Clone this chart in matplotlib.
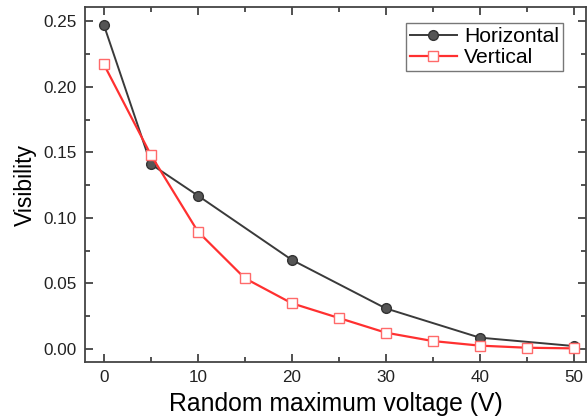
import matplotlib
matplotlib.use("Agg")
import matplotlib.pyplot as plt
from matplotlib.ticker import MultipleLocator

plt.rcParams['font.family'] = ['Liberation Sans', 'DejaVu Sans']

x_h = [0, 5, 10, 20, 30, 40, 50]
vis_h = [0.247, 0.141, 0.117, 0.068, 0.031, 0.0087, 0.0023]
x_v = [0, 5, 10, 15, 20, 25, 30, 35, 40, 45, 50]
vis_v = [0.217, 0.148, 0.0896, 0.054, 0.0349, 0.0237, 0.0125, 0.0061, 0.0026, 0.001, 0.0005]

fig = plt.figure(figsize=(5.87, 4.19), dpi=100)
ax = fig.add_axes([0.145, 0.136, 0.853, 0.847])

ax.plot(x_h, vis_h, color='#3a3a3a', lw=1.4, marker='o', ms=7,
        mfc='#555555', mec='#333333', label='Horizontal', zorder=3)
ax.plot(x_v, vis_v, color='#ff3030', lw=1.6, marker='s', ms=7,
        mfc='white', mec='#ff6a6a', mew=1.0, label='Vertical', zorder=3)

ax.set_xlim(-2.0, 51.3)
ax.set_ylim(-0.0099, 0.2607)
ax.xaxis.set_major_locator(MultipleLocator(10))
ax.xaxis.set_minor_locator(MultipleLocator(5))
ax.yaxis.set_major_locator(MultipleLocator(0.05))
ax.yaxis.set_minor_locator(MultipleLocator(0.025))
ax.yaxis.set_major_formatter(matplotlib.ticker.FormatStrFormatter('%.2f'))

ax.tick_params(which='both', direction='in', top=True, right=True, color='#333333',
               labelsize=12.3, labelcolor='#222222', width=1.2)
ax.tick_params(which='major', length=6)
ax.tick_params(which='minor', length=3.5)
ax.tick_params(axis='x', pad=6)
ax.tick_params(axis='y', pad=6)
for s in ax.spines.values():
    s.set_linewidth(1.3)
    s.set_color('#444444')

ax.set_xlabel('Random maximum voltage (V)', fontsize=17.8, labelpad=5)
ax.set_ylabel('Visibility', fontsize=16.5, labelpad=5)

leg = ax.legend(loc='upper right', bbox_to_anchor=(0.955, 0.956), fontsize=15.2,
                frameon=True, fancybox=False, edgecolor='#555555',
                handlelength=2.2, borderpad=0.2, labelspacing=0.1, handletextpad=0.35,
                borderaxespad=0)
leg.get_frame().set_linewidth(1.0)

fig.savefig('out.png', dpi=100)
